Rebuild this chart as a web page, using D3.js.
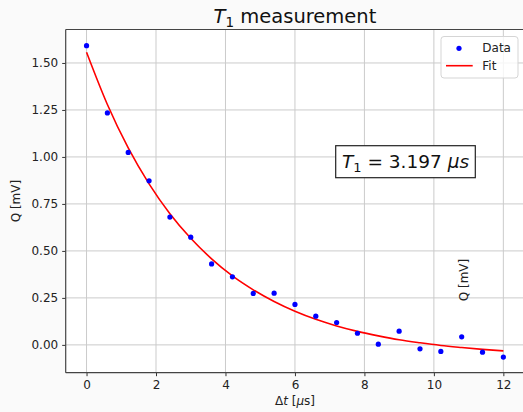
<!DOCTYPE html>
<html>
<head>
<meta charset="utf-8">
<script src="https://cdn.jsdelivr.net/npm/d3@7"></script>
<style>
  body { margin: 0; background: #fafafa; }
  svg { display: block; font-family: "DejaVu Sans", sans-serif; }
</style>
</head>
<body>
<div id="chart"></div>
<script>
// measured points
var delays = [0, 0.6, 1.2, 1.8, 2.4, 3.0, 3.6, 4.2, 4.8, 5.4, 6.0, 6.6, 7.2, 7.8, 8.4, 9.0, 9.6, 10.2, 10.8, 11.4, 12.0];
var qValues = [1.592, 1.234, 1.024, 0.873, 0.680, 0.573, 0.431, 0.362, 0.274, 0.275, 0.215, 0.153, 0.119, 0.062, 0.004, 0.073, -0.021, -0.035, 0.043, -0.039, -0.065];
// fit curve read at the same delays
var fitValues = [1.557, 1.279, 1.048, 0.857, 0.698, 0.567, 0.458, 0.367, 0.293, 0.231, 0.179, 0.136, 0.101, 0.072, 0.048, 0.027, 0.011, -0.003, -0.014, -0.024, -0.032];
var xTicks = [0, 2, 4, 6, 8, 10, 12];
var yTicks = [0, 0.25, 0.5, 0.75, 1.0, 1.25, 1.5];
var t1Text = "3.197";

function init() {
    var W = 523, H = 412;
    var left = 65.7, top = 29.5, right = 524.2, bottom = 372.7;

    var svg = d3.select("#chart").append("svg")
        .attr("width", W)
        .attr("height", H);

    svg.append("rect")
        .attr("width", W).attr("height", H)
        .attr("fill", "#fafafa");

    var xScale = d3.scaleLinear().domain([-0.6, 12.6]).range([left, right]);
    var yScale = d3.scaleLinear().domain([-0.148, 1.678]).range([bottom, top]);

    svg.append("defs").append("clipPath").attr("id", "clip")
        .append("rect")
        .attr("x", left).attr("y", top)
        .attr("width", right - left).attr("height", bottom - top);

    svg.append("rect")
        .attr("x", left).attr("y", top)
        .attr("width", right - left).attr("height", bottom - top)
        .attr("fill", "white");

    // grid
    svg.append("g")
        .selectAll("line.gx")
        .data(xTicks)
        .join("line")
        .attr("x1", d => xScale(d)).attr("x2", d => xScale(d))
        .attr("y1", top).attr("y2", bottom)
        .attr("stroke", "#cbcbcb").attr("stroke-width", 1);

    svg.append("g")
        .selectAll("line.gy")
        .data(yTicks)
        .join("line")
        .attr("x1", left).attr("x2", right)
        .attr("y1", d => yScale(d)).attr("y2", d => yScale(d))
        .attr("stroke", "#cbcbcb").attr("stroke-width", 1);

    // axes
    var xAxis = svg.append("g")
        .attr("transform", `translate(0, ${bottom})`)
        .call(d3.axisBottom(xScale).tickValues(xTicks).tickFormat(d3.format("d")).tickSizeOuter(0).tickSize(3.5).tickPadding(4));

    var yAxis = svg.append("g")
        .attr("transform", `translate(${left}, 0)`)
        .call(d3.axisLeft(yScale).tickValues(yTicks).tickFormat(d3.format(".2f")).tickSizeOuter(0).tickSize(3.5).tickPadding(4));

    [xAxis, yAxis].forEach(function(a) {
        a.select(".domain").remove();
        a.selectAll("line").attr("stroke", "#333");
        a.selectAll("text")
            .attr("fill", "#222")
            .style("font-family", "DejaVu Sans")
            .style("font-size", "12px");
    });

    // spines
    svg.append("line")
        .attr("x1", left).attr("x2", left).attr("y1", top).attr("y2", bottom)
        .attr("stroke", "#444").attr("stroke-width", 1.2);
    svg.append("line")
        .attr("x1", left).attr("x2", right).attr("y1", bottom).attr("y2", bottom)
        .attr("stroke", "#444").attr("stroke-width", 1.2);
    svg.append("line")
        .attr("x1", left).attr("x2", right).attr("y1", top).attr("y2", top)
        .attr("stroke", "#444").attr("stroke-width", 1.2);

    var plot = svg.append("g").attr("clip-path", "url(#clip)");

    var fitData = delays.map((d, i) => ({ t: d, q: fitValues[i] }));
    var line = d3.line()
        .x(d => xScale(d.t))
        .y(d => yScale(d.q))
        .curve(d3.curveMonotoneX);

    plot.append("path")
        .datum(fitData)
        .attr("d", line)
        .attr("fill", "none")
        .attr("stroke", "red")
        .attr("stroke-width", 1.6);

    plot.selectAll("circle.pt")
        .data(delays.map((d, i) => ({ t: d, q: qValues[i] })))
        .join("circle")
        .attr("cx", d => xScale(d.t))
        .attr("cy", d => yScale(d.q))
        .attr("r", 2.6)
        .attr("fill", "blue");

    // title
    var title = svg.append("text")
        .attr("x", (left + right) / 2)
        .attr("y", 22.5)
        .attr("text-anchor", "middle")
        .style("font-size", "19.5px")
        .attr("fill", "#111");
    title.append("tspan").style("font-style", "italic").text("T");
    title.append("tspan").attr("dy", 4.5).style("font-size", "13.5px").text("1");
    title.append("tspan").attr("dy", -4.5).text(" measurement");

    // axis labels
    svg.append("text")
        .attr("x", (left + right) / 2)
        .attr("y", 405)
        .attr("text-anchor", "middle")
        .style("font-size", "12px")
        .attr("fill", "#222")
        .html('Δ<tspan font-style="italic">t</tspan> [<tspan font-style="italic">μ</tspan>s]');

    svg.append("text")
        .attr("transform", `translate(20, ${(top + bottom) / 2}) rotate(-90)`)
        .attr("text-anchor", "middle")
        .style("font-size", "12px")
        .attr("fill", "#222")
        .text("Q [mV]");

    // stray label inside the axes
    svg.append("text")
        .attr("transform", `translate(468, 280) rotate(-90)`)
        .attr("text-anchor", "middle")
        .style("font-size", "12px")
        .attr("fill", "#222")
        .text("Q [mV]");

    // T1 annotation
    var ann = svg.append("g");
    var annText = ann.append("text")
        .attr("x", 405.5)
        .attr("y", 167.5)
        .attr("text-anchor", "middle")
        .style("font-size", "18.5px")
        .attr("fill", "#111");
    annText.append("tspan").style("font-style", "italic").text("T");
    annText.append("tspan").attr("dy", 4.5).style("font-size", "13px").text("1");
    annText.append("tspan").attr("dy", -4.5).text(" = " + t1Text + " ");
    annText.append("tspan").style("font-style", "italic").text("μs");
    ann.insert("rect", "text")
        .attr("x", 335.7).attr("y", 145.7)
        .attr("width", 475.3 - 335.7).attr("height", 177.7 - 145.7)
        .attr("fill", "white")
        .attr("stroke", "#222")
        .attr("stroke-width", 1.2);

    // legend
    var lg = svg.append("g");
    lg.append("rect")
        .attr("x", 441).attr("y", 36.5)
        .attr("width", 77).attr("height", 41.5)
        .attr("rx", 3)
        .attr("fill", "white").attr("fill-opacity", 0.8)
        .attr("stroke", "#d5d5d5");
    lg.append("circle")
        .attr("cx", 459).attr("cy", 48.3).attr("r", 2.6)
        .attr("fill", "blue");
    lg.append("line")
        .attr("x1", 446).attr("x2", 472.7)
        .attr("y1", 65.7).attr("y2", 65.7)
        .attr("stroke", "red").attr("stroke-width", 1.6);
    lg.append("text")
        .attr("x", 482.3).attr("y", 52.3)
        .style("font-size", "12px").attr("fill", "#222")
        .text("Data");
    lg.append("text")
        .attr("x", 482.3).attr("y", 70)
        .style("font-size", "12px").attr("fill", "#222")
        .text("Fit");
}

window.onload = init;
</script>
</body>
</html>
